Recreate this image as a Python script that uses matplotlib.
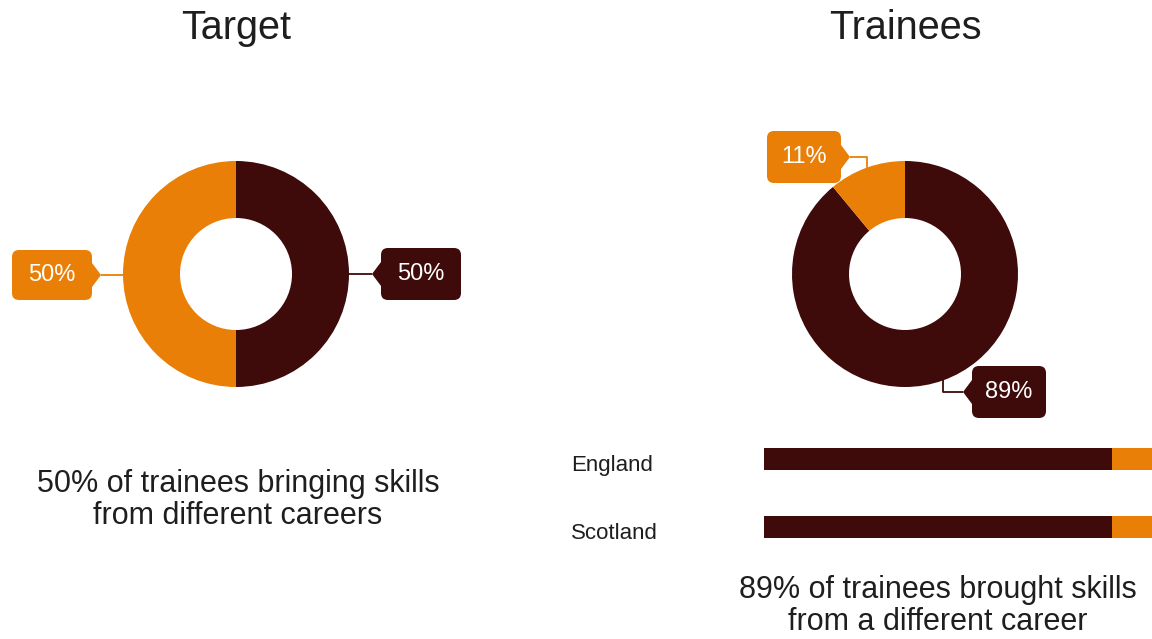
"""
Career changers: target share versus actual trainees, plus England / Scotland split.
"""
import numpy as np
import matplotlib.pyplot as plt
from matplotlib.patches import FancyBboxPatch, Polygon
from matplotlib.transforms import blended_transform_factory

plt.rcParams['font.family'] = ['Liberation Sans', 'DejaVu Sans']

W, H = 1152, 639
ORANGE = '#E97F07'
DARK = '#3E0A0A'
TEXT = '#1E1E1E'

# donut values (dark = from a different career, orange = not)
target_values = [50, 50]
trainee_values = [89, 11]
donut_colors = [DARK, ORANGE]

# bar values per nation
nations = ['England', 'Scotland']
nation_career = [89, 89]
nation_other = [11, 11]


def Y(y):
    # pixel row (top down) -> data y (bottom up)
    return H - y


def wedge_anchor(wedge):
    theta = np.radians((wedge.theta1 + wedge.theta2) / 2)
    cx, cy = wedge.center
    return cx + wedge.r * np.cos(theta), cy + wedge.r * np.sin(theta)


def callout(ax, text, color, cx, cy, bw, bh, side, anchor):
    """Rounded label box with a small notch and a leader line to anchor."""
    cy = Y(cy)
    box = FancyBboxPatch((cx - bw / 2, cy - bh / 2), bw, bh,
                         boxstyle='round,pad=0,rounding_size=7',
                         fc=color, ec='none', zorder=4)
    ax.add_patch(box)
    if side == 'right':
        base = cx + bw / 2
        tip = (base + 9, cy)
    else:
        base = cx - bw / 2
        tip = (base - 9, cy)
    notch = Polygon([(base, cy + 12), tip, (base, cy - 12)],
                    closed=True, fc=color, ec='none', zorder=4)
    ax.add_patch(notch)
    ax.plot([anchor[0], anchor[0], tip[0]], [anchor[1], tip[1], tip[1]],
            color=color, lw=1.3, zorder=3, solid_capstyle='butt')
    ax.text(cx, cy, text, color='white', fontsize=17,
            ha='center', va='center', zorder=5)


fig = plt.figure(figsize=(W / 100, H / 100), dpi=100)
ax = fig.add_axes([0, 0, 1, 1])

# left donut: target
wl, _ = ax.pie(target_values, colors=donut_colors, center=(236, Y(274)),
               radius=113, startangle=90, counterclock=False,
               wedgeprops=dict(width=57, linewidth=0), frame=True)
# right donut: trainees
wr, _ = ax.pie(trainee_values, colors=donut_colors, center=(905, Y(274)),
               radius=113, startangle=90, counterclock=False,
               wedgeprops=dict(width=57, linewidth=0), frame=True)
ax.set_xlim(0, W)
ax.set_ylim(0, H)
ax.axis('off')

callout(ax, f'{target_values[1]}%', ORANGE, 52, 275, 80, 50, 'right',
        wedge_anchor(wl[1]))
callout(ax, f'{target_values[0]}%', DARK, 421, 274, 80, 52, 'left',
        wedge_anchor(wl[0]))
callout(ax, f'{trainee_values[1]}%', ORANGE, 804, 157, 74, 52, 'right',
        wedge_anchor(wr[1]))
callout(ax, f'{trainee_values[0]}%', DARK, 1009, 392, 74, 52, 'left',
        wedge_anchor(wr[0]))

ax.text(236, Y(28), 'Target', fontsize=28.5, color=TEXT, ha='center', va='center')
ax.text(905, Y(28), 'Trainees', fontsize=28.5, color=TEXT, ha='center', va='center')
ax.text(238, Y(500), '50% of trainees bringing skills\nfrom different careers',
        fontsize=22, color=TEXT, ha='center', va='center', linespacing=1.12)
ax.text(938, Y(606), '89% of trainees brought skills\nfrom a different career',
        fontsize=22, color=TEXT, ha='center', va='center', linespacing=1.08)

# stacked bars per nation
bx = fig.add_axes([764 / W, 78 / H, 391 / W, 136 / H])
ypos = np.arange(len(nations))[::-1]
bx.barh(ypos, nation_career, height=0.31, color=DARK, linewidth=0)
bx.barh(ypos, nation_other, left=nation_career, height=0.31, color=ORANGE,
        linewidth=0)
bx.set_xlim(0, 100)
bx.set_ylim(-0.5, 1.5)
bx.axis('off')
lt = blended_transform_factory(fig.transFigure, bx.transData)
for name, yp in zip(nations, ypos):
    bx.text(571 / W, yp - 0.09, name, transform=lt, fontsize=16, color=TEXT,
            ha='left', va='center')

fig.savefig('out.png', dpi=100)
